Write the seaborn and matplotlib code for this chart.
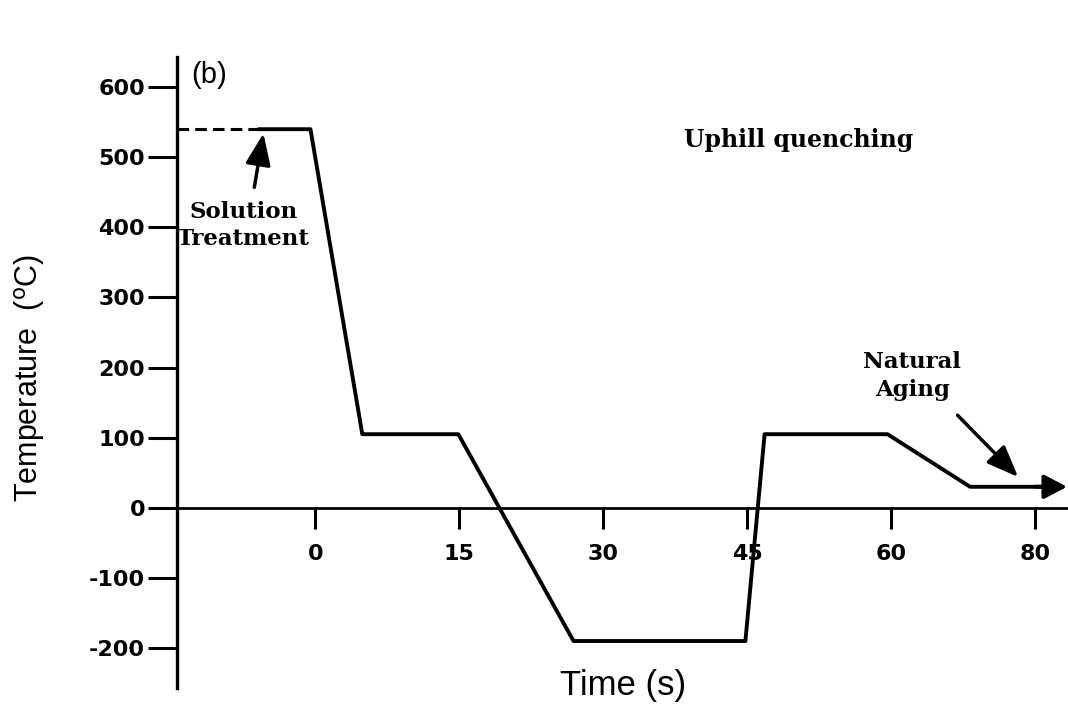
import matplotlib
matplotlib.use("Agg")
import matplotlib.pyplot as plt
import seaborn as sns
import pandas as pd

# ---- data (time axis in evenly spaced plot units; last tick labelled 80) ----
time_dashed = [-14.4, -5.9]
temp_dashed = [540, 540]
time_profile = [-5.9, -0.5, 4.9, 14.9, 26.9, 44.8, 46.8, 59.6, 68.2, 76.0]
temp_profile = [540, 540, 105, 105, -190, -190, 105, 105, 30, 30]
arrow_end_time = 78.3
xtick_pos = [0, 15, 30, 45, 60, 75]
xtick_labels = ["0", "15", "30", "45", "60", "80"]
ytick_vals = [-200, -100, 0, 100, 200, 300, 400, 500, 600]

sns.set_theme(style="white")
plt.rcParams["font.family"] = ["DejaVu Sans"]
plt.rcParams["axes.unicode_minus"] = False
plt.rcParams["text.color"] = "black"
plt.rcParams["xtick.color"] = "black"
plt.rcParams["ytick.color"] = "black"
plt.rcParams["xtick.labelcolor"] = "black"
plt.rcParams["ytick.labelcolor"] = "black"

fig = plt.figure(figsize=(10.68, 7.07), dpi=100)
ax = fig.add_axes([177 / 1068, 19 / 707, 1 - 177 / 1068, (688 - 57) / 707])

df_dash = pd.DataFrame({"t": time_dashed, "T": temp_dashed})
df_prof = pd.DataFrame({"t": time_profile, "T": temp_profile})
sns.lineplot(data=df_dash, x="t", y="T", sort=False, color="black", lw=2.2,
             linestyle=(0, (3.8, 2.0)), ax=ax, clip_on=False)
sns.lineplot(data=df_prof, x="t", y="T", sort=False, color="black", lw=2.8,
             ax=ax, clip_on=False)
ax.annotate("", xy=(arrow_end_time, temp_profile[-1]),
            xytext=(time_profile[-1] - 1, temp_profile[-1]),
            arrowprops=dict(arrowstyle="-|>,head_length=0.4,head_width=0.21",
                            mutation_scale=35, color="black", lw=2.8,
                            shrinkA=0, shrinkB=0),
            annotation_clip=False)

ax.set_xlim(-14.4, 78.4)
ax.set_ylim(-257, 643)

for s in ["top", "right"]:
    ax.spines[s].set_visible(False)
ax.spines["bottom"].set_position(("data", 0))
ax.spines["left"].set_linewidth(2.4)
ax.spines["bottom"].set_linewidth(2.0)
for s in ["left", "bottom"]:
    ax.spines[s].set_color("black")

ax.set_xticks(xtick_pos)
ax.set_xticklabels(xtick_labels)
ax.set_yticks(ytick_vals)
ax.tick_params(axis="y", direction="out", length=21, width=2.2, pad=2,
               labelsize=16, color="black", labelcolor="black", left=True)
ax.tick_params(axis="x", direction="out", length=15, width=2.2, pad=11,
               labelsize=16, color="black", labelcolor="black", bottom=True)
for lab in ax.get_xticklabels() + ax.get_yticklabels():
    lab.set_fontweight("bold")
ax.set_xlabel("")
ax.set_ylabel("")

# annotations
ax.text(-12.9, 617, "(b)", fontsize=21, ha="left", va="center",
        family=["Liberation Sans", "DejaVu Sans"])
ax.text(50.3, 524, "Uphill quenching", fontsize=17, fontweight="bold",
        family="DejaVu Serif", ha="center", va="center")
ax.text(-7.5, 403, "Solution\nTreatment", fontsize=16.5, fontweight="bold",
        family="DejaVu Serif", ha="center", va="center", linespacing=1.3)
ax.text(62.2, 188, "Natural\nAging", fontsize=16.5, fontweight="bold",
        family="DejaVu Serif", ha="center", va="center", linespacing=1.3)
head = "-|>,head_length=0.55,head_width=0.22"
ax.annotate("", xy=(-5.4, 534), xytext=(-6.35, 457),
            arrowprops=dict(arrowstyle=head, mutation_scale=35, color="black", lw=2.5,
                            shrinkA=0, shrinkB=0))
ax.annotate("", xy=(73.2, 44), xytext=(66.9, 132),
            arrowprops=dict(arrowstyle=head, mutation_scale=35, color="black", lw=2.5,
                            shrinkA=0, shrinkB=0))

fig.text(623 / 1068, 1 - 686 / 707, "Time (s)", fontsize=25, ha="center", va="center",
         family=["Liberation Sans", "DejaVu Sans"])
fig.text(30 / 1068, 1 - 378 / 707, r"Temperature  ($^{\mathrm{o}}$C)", fontsize=22,
         ha="center", va="center", rotation=90,
         family=["Liberation Sans Narrow", "Liberation Sans", "DejaVu Sans"])

fig.savefig("out.png", dpi=100, facecolor="white")
